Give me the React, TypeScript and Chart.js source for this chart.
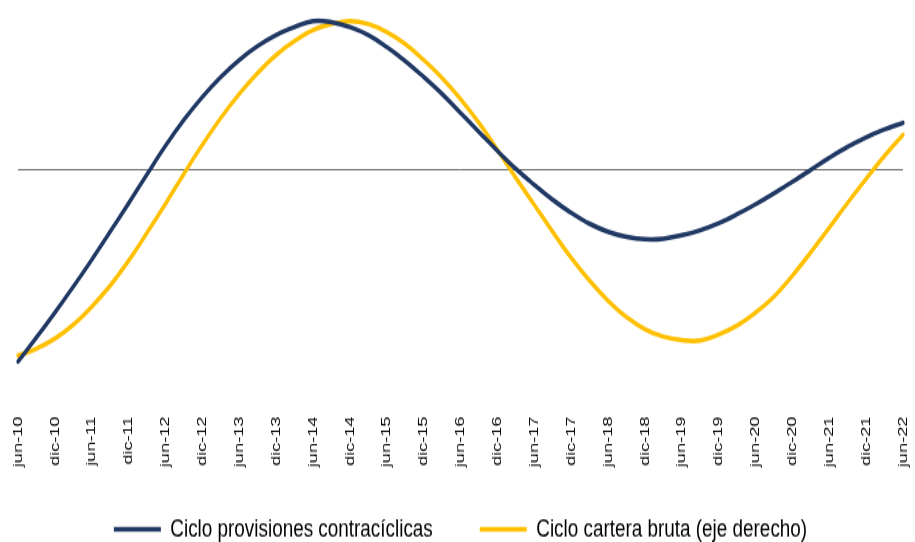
import React, { useEffect, useRef } from "react";
import { Chart, registerables } from "chart.js";

Chart.register(...registerables);

// Quarterly periods (only jun / dic are labelled on the axis)
const quarters = [
  "jun-10", "sep-10", "dic-10",
  "mar-11", "jun-11", "sep-11", "dic-11",
  "mar-12", "jun-12", "sep-12", "dic-12",
  "mar-13", "jun-13", "sep-13", "dic-13",
  "mar-14", "jun-14", "sep-14", "dic-14",
  "mar-15", "jun-15", "sep-15", "dic-15",
  "mar-16", "jun-16", "sep-16", "dic-16",
  "mar-17", "jun-17", "sep-17", "dic-17",
  "mar-18", "jun-18", "sep-18", "dic-18",
  "mar-19", "jun-19", "sep-19", "dic-19",
  "mar-20", "jun-20", "sep-20", "dic-20",
  "mar-21", "jun-21", "sep-21", "dic-21",
  "mar-22", "jun-22",
];

const shownTickPrefixes = ["jun", "dic"];

const seriesNames = [
  "Ciclo provisiones contracíclicas",
  "Ciclo cartera bruta (eje derecho)",
];

const provisiones = [
  -1.92, -1.68, -1.43, -1.17, -0.90, -0.62, -0.335, -0.045, 0.24, 0.50,
  0.73, 0.93, 1.10, 1.24, 1.35, 1.43, 1.49, 1.48, 1.43, 1.35,
  1.23, 1.09, 0.93, 0.76, 0.57, 0.38, 0.19, 0.01, -0.15, -0.30,
  -0.43, -0.54, -0.62, -0.67, -0.695, -0.69, -0.655, -0.605, -0.535, -0.445,
  -0.345, -0.235, -0.12, 0.00, 0.12, 0.23, 0.325, 0.405, 0.47,
];

const cartera = [
  -1.86, -1.79, -1.69, -1.55, -1.37, -1.16, -0.91, -0.63, -0.34, -0.04,
  0.25, 0.52, 0.76, 0.97, 1.15, 1.29, 1.40, 1.46, 1.49, 1.46,
  1.38, 1.26, 1.10, 0.92, 0.71, 0.47, 0.20, -0.08, -0.35, -0.62,
  -0.88, -1.11, -1.31, -1.475, -1.595, -1.67, -1.705, -1.71, -1.65, -1.56,
  -1.43, -1.27, -1.06, -0.825, -0.58, -0.33, -0.09, 0.14, 0.35,
];

const axisMin = -2.365;
const axisMax = 1.633;

const NAVY = "#203864";
const GOLD = "#FFC000";
const FONT = "'Liberation Sans', Arial, Helvetica, sans-serif";

const labelClipPlugin = {
  id: "labelClip",
  afterLayout(chart: any) {
    const x = chart.scales.x;
    if (x) x.bottom = chart.height;
  },
};

export default function App() {
  const ref = useRef<HTMLCanvasElement | null>(null);

  useEffect(() => {
    if (!ref.current) return;
    const chart = new Chart(ref.current, {
      type: "line",
      data: {
        labels: quarters,
        datasets: [
          {
            label: seriesNames[0],
            data: provisiones,
            yAxisID: "y",
            borderColor: NAVY,
            backgroundColor: NAVY,
            borderWidth: 3.5,
            borderCapStyle: "round",
            pointRadius: 0,
            pointStyle: "line",
            tension: 0.4,
            fill: false,
          },
          {
            label: seriesNames[1],
            data: cartera,
            yAxisID: "y1",
            borderColor: GOLD,
            backgroundColor: GOLD,
            borderWidth: 3.5,
            borderCapStyle: "round",
            pointRadius: 0,
            pointStyle: "line",
            tension: 0.4,
            fill: false,
          },
        ],
      },
      plugins: [labelClipPlugin],
      options: {
        responsive: false,
        maintainAspectRatio: false,
        devicePixelRatio: 1,
        animation: false,
        layout: { padding: { left: 18, right: 12, top: 5, bottom: -10 } },
        plugins: {
          legend: {
            position: "bottom",
            labels: {
              usePointStyle: true,
              pointStyleWidth: 47,
              padding: 47,
              color: "#000",
              font: { family: FONT, size: 18.9 },
            },
          },
          tooltip: { enabled: false },
        },
        scales: {
          x: {
            type: "category",
            offset: false,
            grid: { display: false, drawTicks: false },
            border: { display: false },
            afterFit: (scale: any) => {
              scale.height = 35.5;
              scale.paddingLeft = 0;
              scale.paddingRight = 0;
            },
            ticks: {
              autoSkip: false,
              maxRotation: 90,
              minRotation: 90,
              padding: 8,
              color: "#000",
              font: { family: FONT, size: 13.5 },
              callback: function (this: any, value: any) {
                const l = String(this.getLabelForValue(value));
                return shownTickPrefixes.some((p) => l.startsWith(p)) ? l : "";
              },
            },
          },
          y: {
            position: "left",
            min: axisMin,
            max: axisMax,
            afterBuildTicks: (axis: any) => {
              axis.ticks = [{ value: 0 }];
            },
            grid: { color: "#6b6b6b", lineWidth: 1, drawTicks: false },
            border: { display: false },
            ticks: { display: false },
          },
          y1: {
            position: "right",
            display: false,
            min: axisMin,
            max: axisMax,
            grid: { display: false },
          },
        },
      },
    });
    return () => chart.destroy();
  }, []);

  return (
    <div style={{ position: "fixed", left: 0, top: 0, width: 915, height: 542, background: "#fff" }}>
      <canvas
        ref={ref}
        width={915}
        height={404}
        style={{ width: "915px", height: "542px", display: "block" }}
      />
    </div>
  );
}
